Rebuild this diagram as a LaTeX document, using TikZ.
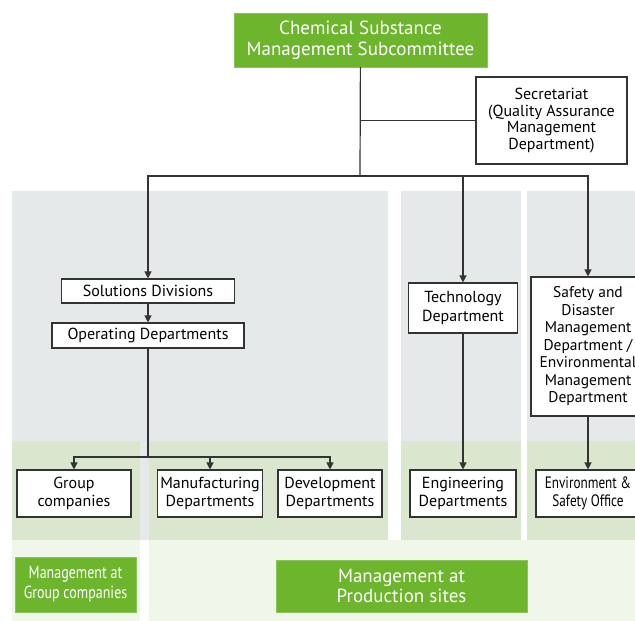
\documentclass[tikz,border=0pt]{standalone}
\usepackage{fontspec}
\setmainfont{PT Sans}
\newfontfamily\narrowfont[FakeStretch=0.8]{PT Sans}
\usetikzlibrary{arrows.meta}
\definecolor{csgreen}{HTML}{6CB52D}
\definecolor{csgray}{HTML}{E6E9EA}
\definecolor{cslgreen}{HTML}{DAE6CE}
\definecolor{cspale}{HTML}{F0F6EA}
\definecolor{csline}{HTML}{333333}

\begin{document}
\begin{tikzpicture}[x=1pt,y=-1pt,>={Triangle[length=7pt,width=7pt]},
  every node/.style={font=\fontsize{16}{17.5}\selectfont,align=center,inner sep=1pt},
  unit/.style={draw=csline,fill=white,line width=1.1pt},
  head/.style={fill=csgreen,text=white,draw=csgreen!80!white}]
        \useasboundingbox (0,0) rectangle (635,621);
        % panels
        \fill[csgray] (12,191) rectangle (388,540);
        \fill[csgray] (401,191) rectangle (521,441);
        \fill[csgray] (527,191) rectangle (640,441);
        \fill[cslgreen] (12,441) rectangle (140,540);
        \fill[cslgreen] (149,441) rectangle (388,540);
        \fill[cslgreen] (401,441) rectangle (521,540);
        \fill[cslgreen] (527,441) rectangle (640,540);
        \fill[cspale] (12,540) rectangle (140,621);
        \fill[cspale] (149,540) rectangle (640,621);
        % committee
        \node[head,minimum width=253pt,minimum height=54pt,font=\fontsize{19}{21}\selectfont] (csms) at (360.5,40) {Chemical Substance\\Management Subcommittee};
        \node[unit,minimum width=151pt,minimum height=87pt,font=\fontsize{16}{16.5}\selectfont] (sec) at (551.5,120.5) {Secretariat\\(Quality Assurance\\Management\\Department)};
        % divisions
        \node[unit,minimum width=173pt,minimum height=24pt] (sol) at (148,291) {Solutions Divisions};
        \node[unit,minimum width=192pt,minimum height=25pt] (opd) at (148,335.5) {Operating Departments};
        \node[unit,minimum width=109pt,minimum height=50pt,font=\fontsize{16}{19}\selectfont] (tech) at (463,308) {Technology\\Department};
        \node[unit,minimum width=114pt,minimum height=139pt,font=\fontsize{15.5}{17.5}\selectfont] (safe) at (588,346.5) {Safety and\\Disaster\\Management\\Department /\\Environmental\\Management\\Department};
        % sites
        \node[unit,minimum width=114pt,minimum height=47pt] (grp) at (74,493.5) {Group\\companies};
        \node[unit,minimum width=105pt,minimum height=47pt] (manu) at (210,493.5) {Manufacturing\\Departments};
        \node[unit,minimum width=104pt,minimum height=47pt] (dev) at (330,493.5) {Development\\Departments};
        \node[unit,minimum width=106pt,minimum height=47pt] (eng) at (463,493.5) {Engineering\\Departments};
        \node[unit,minimum width=104pt,minimum height=47pt,font=\narrowfont\fontsize{16.5}{18}\selectfont] (envs) at (588,493.5) {Environment \&\\Safety Office};
        % management
        \node[head,minimum width=121pt,minimum height=55pt,font=\narrowfont\fontsize{17.5}{20}\selectfont] (mgc) at (75.5,584.5) {Management at\\Group companies};
        \node[head,minimum width=251pt,minimum height=52pt,font=\fontsize{19}{20}\selectfont] (mps) at (401.5,586) {Management at\\Production sites};
        % links
        \coordinate (j1) at (360,176);
        \coordinate (j2) at (148,457);
        \draw[csline,line width=1.2pt] (csms) -- (j1);
        \draw[csline,line width=1.2pt] (sec.west) -- (sec.west -| j1);
        \foreach \u in {sol,tech,safe}{
          \draw[->,csline,line width=1.2pt] (j1) -| (\u);
        }
        \draw[->,csline,line width=1.2pt] (sol) -- (opd);
        \draw[csline,line width=1.2pt] (opd) -- (j2);
        \foreach \u in {grp,manu,dev}{
          \draw[->,csline,line width=1.2pt] (j2) -| (\u);
        }
        \draw[->,csline,line width=1.2pt] (tech) -- (eng);
        \draw[->,csline,line width=1.2pt] (safe) -- (envs);
      \end{tikzpicture}
\end{document}
